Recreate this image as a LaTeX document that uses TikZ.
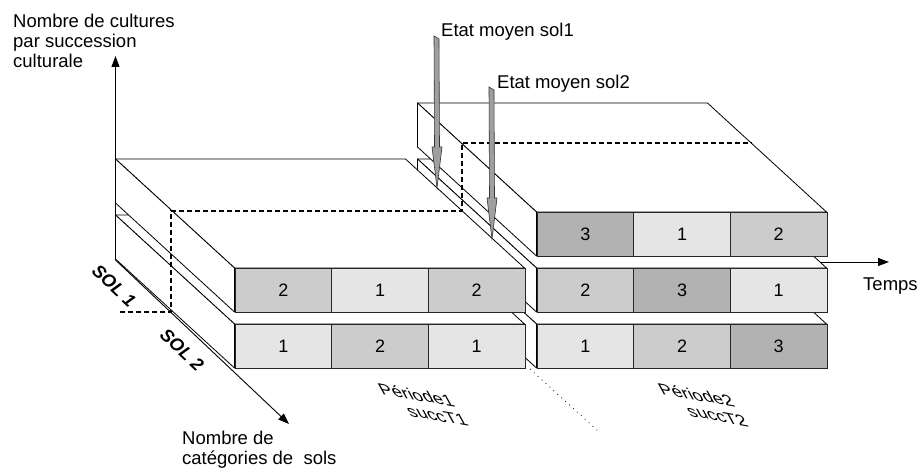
\documentclass[tikz,border=0pt]{standalone}
\usepackage{fontspec}
\setmainfont{Liberation Sans}
\usetikzlibrary{arrows.meta, calc}
\definecolor{soilA}{gray}{0.9}
\definecolor{soilB}{gray}{0.8}
\definecolor{soilC}{gray}{0.7}
\tikzstyle{face} = [draw=black, fill=white, line width=0.8pt, line join=round]
\tikzstyle{cell} = [draw=black!85, line width=1pt, minimum width=96.67pt, minimum height=44pt, inner sep=0pt, anchor=north west, font=\fontsize{18}{18}\selectfont]
\tikzstyle{axisline} = [draw, line width=0.9pt, -{Triangle[width=8pt,length=11pt]}]
\tikzstyle{meanline} = [line width=1.7pt, dash pattern=on 5pt off 3pt]
\tikzstyle{dotline} = [line width=0.8pt, dash pattern=on 0.8pt off 4.5pt]
\tikzstyle{fatarrow} = [draw=black!80, fill=gray!75, line width=0.6pt]
\tikzstyle{txt} = [font=\fontsize{18.5}{20}\selectfont, inner sep=0pt]
\tikzstyle{sollabel} = [font=\fontsize{18}{18}\selectfont\bfseries\itshape, inner sep=0pt, rotate=-43]
\tikzstyle{skewtext} = [font=\fontsize{17}{17}\selectfont, inner sep=0pt, rotate=-10, xslant=-0.8, xscale=1.1, yscale=0.85]

%% one slab: name, shift, list of colour/number
\newcommand{\slab}[4]{%
\begin{scope}[shift={(#2,#3)}]
\draw[face] (0,0) -- (290,0) -- (409,109) -- (119,109) -- cycle;
\draw[face] (0,0) -- (119,109) -- (119,153) -- (0,44) -- cycle;
\foreach \col/\num [count=\i from 0] in {#4}
    \node[cell, fill=\col] (#1-\i) at (119+96.67*\i, 109) {\num};
\end{scope}}

%% grey arrow from top point to tip
\newcommand{\fatarrow}[2]{%
\path[fatarrow] ($(#1)+(-2.5,-1)$) -- ($(#1)+(2.5,2)$) -- ($(#2)+(2.5,-41)$)
    -- ($(#2)+(5,-41)$) -- (#2) -- ($(#2)+(-5,-41)$) -- ($(#2)+(-2.5,-41)$) -- cycle;}

\begin{document}
\begin{tikzpicture}[x=1pt, y=-1pt]
\useasboundingbox (0,0) rectangle (919,468);

%% Periode 2 (back)
\slab{pB3}{417.5}{215}{soilA/1, soilB/2, soilC/3}
\slab{pB2}{417.5}{159}{soilB/2, soilC/3, soilA/1}
\slab{pB1}{417.5}{103}{soilC/3, soilA/1, soilB/2}

%% Periode 1
\slab{pA2}{115.5}{215}{soilA/1, soilB/2, soilA/1}
\slab{pA1}{115.5}{159}{soilB/2, soilA/1, soilB/2}

%% axes
\coordinate (origin) at (115.5,260);
\coordinate (ytop) at (115.5,56);
\coordinate (zend) at (289,424);
\coordinate (tstart) at (820,262);
\coordinate (tend) at (889,262);
\draw[axisline] (origin) -- (ytop);
\draw[axisline] (origin) -- (zend);
\draw[axisline] (tstart) -- (tend);

%% mean state
\coordinate (m0) at (120,312);
\coordinate (m1) at (171,312);
\coordinate (m2) at (171,211);
\coordinate (m3) at (462,211);
\coordinate (m4) at (462,143);
\coordinate (m5) at (752,143);
\draw[meanline] (m0) -- (m1) -- (m2) -- (m3) -- (m4) -- (m5);

\coordinate (d0) at (530,369);
\coordinate (d1) at (598,431);
\draw[dotline] (d0) -- (d1);

%% arrows
\coordinate (top1) at (436.5,37);
\coordinate (tip1) at (437,188);
\coordinate (top2) at (491.5,88);
\coordinate (tip2) at (492,239);
\fatarrow{top1}{tip1}
\fatarrow{top2}{tip2}

%% labels
\node[txt, anchor=north west, align=left] (ylabel) at (13,13.5) {Nombre de cultures\\par succession\\culturale};
\node[txt, anchor=base west] (etat1) at (441,37) {Etat moyen sol1};
\node[txt, anchor=base west] (etat2) at (497,89) {Etat moyen sol2};
\node[txt, anchor=base west] (temps) at (863,290) {Temps};
\node[txt, anchor=north west, align=left] (zlabel) at (182,430.5) {Nombre de\\catégories de\ \ sols};
\node[sollabel] (sol1) at (114,286) {SOL 1};
\node[sollabel] (sol2) at (182,350) {SOL 2};
\node[skewtext] (per1) at (416,395) {Période1};
\node[skewtext] (succ1) at (437,416) {succT1};
\node[skewtext] (per2) at (696,395) {Période2};
\node[skewtext] (succ2) at (717,416) {succT2};
\end{tikzpicture}
\end{document}
